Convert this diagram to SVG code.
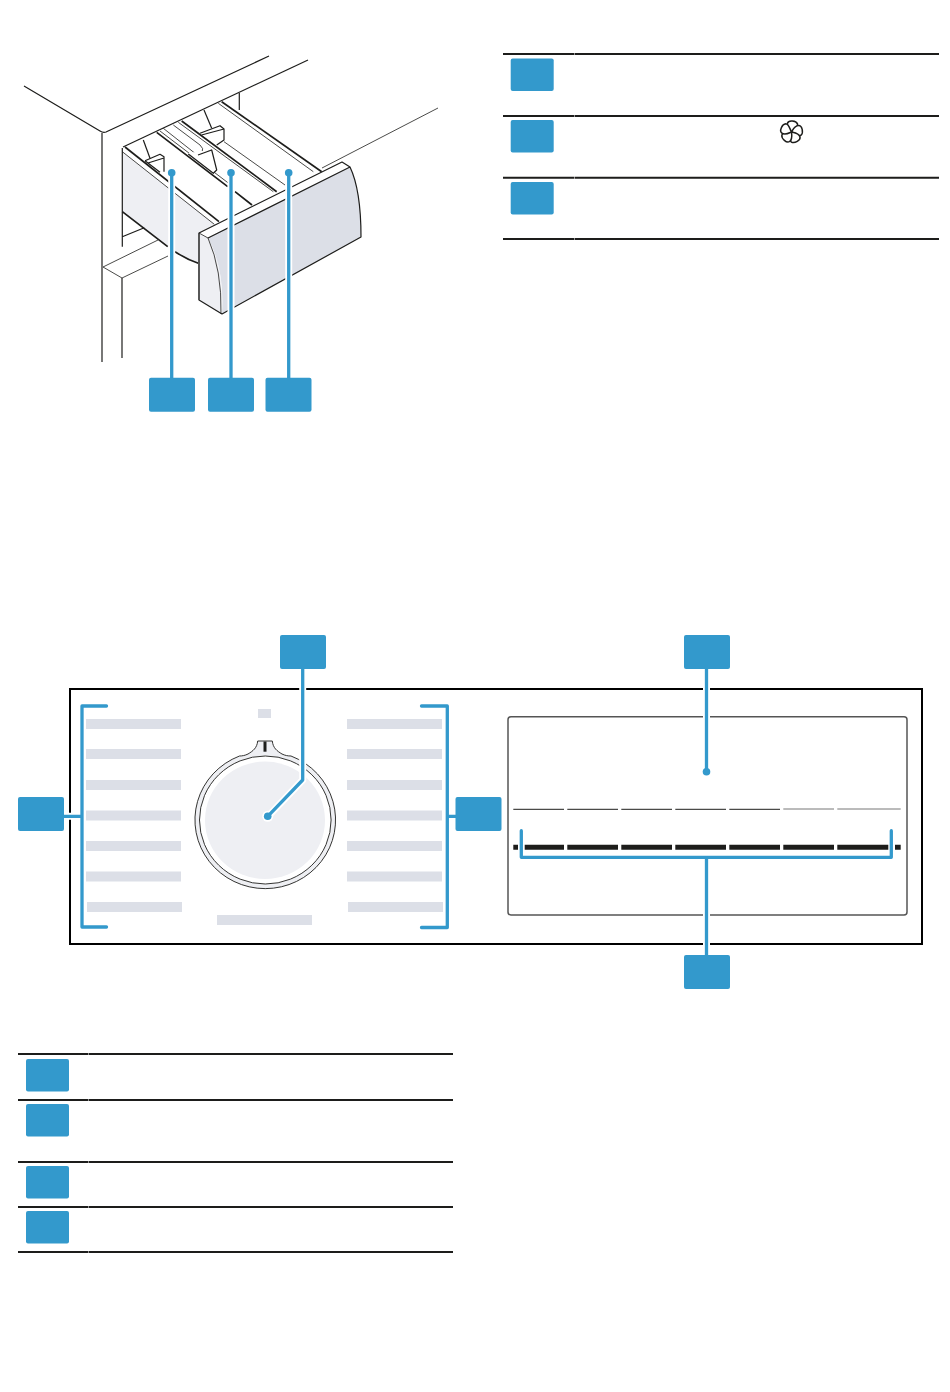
<svg xmlns="http://www.w3.org/2000/svg" width="950" height="1392" viewBox="0 0 950 1392">
<style>
.tag{fill:#3399cc}
.ln{fill:none;stroke:#1d1d1b;stroke-width:1.2;stroke-linejoin:round;stroke-linecap:butt}
.th{stroke-width:1.700}
.tn{stroke-width:.8}
.rule{fill:none;stroke:#1d1d1b;stroke-width:2}
.bar{fill:#dcdfe7}
.halo{fill:none;stroke:#fff;stroke-width:7}
.lead{fill:none;stroke:#3399cc;stroke-width:3.300;stroke-linejoin:round;stroke-linecap:round}
</style>
<defs>
<rect id="tagW" class="tag" width="46" height="34" rx="2"/>
<rect id="tagS" class="tag" width="43" height="32.500" rx="2"/>
<path id="petal" d="M0 0C-2.500-2-6-4-5.500-8C-5-11.500 2.500-12 4.500-9C6-6 1.500-2.500 0 0Z" fill="#fff" stroke="#1d1d1b" stroke-width="1.500"/>
</defs>
<g id="drawer-illustration">
<path class="ln" d="M24 86L100 131Q103 133 106 132L269 56"/>
<path class="ln" d="M123 147L308 60"/>
<path class="ln tn" d="M322 168L438 108"/>
<path class="ln" d="M102 133V362"/>
<path class="ln" d="M239.300 93V110"/>
<path class="ln tn" d="M103 267L122 278L168 256M103 267L158 240"/>
<path class="ln" d="M122 278V358"/>
<path d="M122.300 151.700L214.300 224.300L199 233V263Q186 259 175 252L167.700 246.700L122.300 211.700Z" fill="#eeeff3"/>
<path class="ln" d="M122.300 148V211.700M122.300 211.700V246.700M122.300 236.700L144.300 227.700"/>
<path class="ln th" d="M122.300 211.700L167.700 246.700M175 251.700Q186 259 198.300 263.300"/>
<path class="ln tn" d="M122.300 151.700L214.300 224.300"/>
<path class="ln th" d="M125 147L219 221.700"/>
<path class="ln" d="M143.300 140L150 158.300"/>
<path d="M145 160.700L160 154.300L164 156.700V171.700L160 172.300Z" fill="#fff"/>
<path class="ln" d="M145 160.700L160 154.300L164 156.700V171.700M148 163L164 158M145 160.700L160 172.300"/>
<path class="ln th" d="M156.700 132.300L227.700 186.700M235 191.700L252 205"/>
<path class="ln tn" d="M160 131L230 184.300"/>
<path class="ln tn" d="M163.300 128.300L195 153.300Q198 155 203 153L211.700 150M173.300 125L200 145Q204 149 202.300 151"/>
<path d="M188 153L211.700 150L216.700 170L213.300 173.300Z" fill="#fff"/>
<path class="ln" d="M188.300 154L213.300 173.300L216.700 170L211.700 150L198 155"/>
<path class="ln tn" d="M178.300 122.300L273.300 191.700"/>
<path class="ln th" d="M181.700 121L276.700 191.700"/>
<path class="ln" d="M204 110L211.700 128.300"/>
<path d="M200 133.300L220 125.700L224 129V140L216.700 145Z" fill="#fff"/>
<path class="ln" d="M200 133.300L220 125.700L224 129V140L216.700 145M201.500 135L224 129"/>
<path class="ln tn" d="M224 141.700L285 185"/>
<path class="ln th" d="M221.700 101.700L321.700 171.700"/>
<path class="ln tn" d="M218.300 103.300L313.300 171.700"/>
<path d="M199 233L342 162L350 167L208 238Z" fill="#fff"/>
<path d="M208 238L350 167Q361 190 361 237L222 314Q225 270 208 238Z" fill="#dcdfe7"/>
<path d="M199 233L208 238Q225 270 221 314L199 300Z" fill="#eeeff3"/>
<path class="ln" d="M199 233L342 162L350 167Q361 190 361 237L222 314L199 300ZM208 238L350 167"/>
<path d="M199 233V300" fill="none" stroke="#555" stroke-width="1.800"/>
<path class="ln tn" d="M199 233L208 238Q222 270 221 314"/>
</g>
<g id="connectors">
<path class="halo" d="M171.700 178V377M231 178V377M288.700 178V377"/>
<path class="lead" d="M171.700 173V378M231 173V378M288.700 173V378"/>
<circle class="tag" cx="171.700" cy="172.700" r="3.800"/>
<circle class="tag" cx="231" cy="172.700" r="3.800"/>
<circle class="tag" cx="288.700" cy="172.700" r="3.800"/>
</g>
<g id="table-top">
<path class="rule" d="M503 54H574M574.500 54H939M503 116H574M574.500 116H939M503 177.700H574M574.500 177.700H939M503 239H574M574.500 239H939"/>
<use href="#tagS" x="510.700" y="58.500"/>
<use href="#tagS" x="510.700" y="120"/>
<use href="#tagS" x="510.700" y="182"/>
<g id="flower-icon" transform="translate(791.500 132)">
<use href="#petal" transform="rotate(10)"/>
<use href="#petal" transform="rotate(82)"/>
<use href="#petal" transform="rotate(154)"/>
<use href="#petal" transform="rotate(226)"/>
<use href="#petal" transform="rotate(298)"/>
</g>
</g>
<g id="panel">
<rect x="70" y="689" width="852" height="255" fill="#fff" stroke="#000" stroke-width="2"/>
<g id="programme-labels-left">
<rect class="bar" x="86" y="719" width="95" height="10"/>
<rect class="bar" x="86" y="749" width="95" height="10"/>
<rect class="bar" x="86" y="780" width="95" height="10"/>
<rect class="bar" x="86" y="810.500" width="95" height="10"/>
<rect class="bar" x="86" y="841" width="95" height="10"/>
<rect class="bar" x="86" y="871.500" width="95" height="10"/>
<rect class="bar" x="87" y="902" width="95" height="10"/>
</g>
<g id="programme-labels-right">
<rect class="bar" x="347" y="719" width="95" height="10"/>
<rect class="bar" x="347" y="749" width="95" height="10"/>
<rect class="bar" x="347" y="780" width="95" height="10"/>
<rect class="bar" x="347" y="810.500" width="95" height="10"/>
<rect class="bar" x="347" y="841" width="95" height="10"/>
<rect class="bar" x="347" y="871.500" width="95" height="10"/>
<rect class="bar" x="348" y="902" width="95" height="10"/>
</g>
<rect class="bar" x="258" y="709" width="13" height="9"/>
<rect class="bar" x="217" y="915" width="95" height="10"/>
<g id="knob">
<path d="M257.700 741H272.300C273 748 277 751 282 754C285 755.500 288 756 291 756A70.300 68.700 0 1 1 239.500 756C242 756 245 755.500 248 754C253 751 257 748 257.700 741Z" fill="#eeeff3" stroke="#1d1d1b" stroke-width=".9"/>
<ellipse cx="265.300" cy="820" rx="65.800" ry="64" fill="#fff" stroke="#1d1d1b" stroke-width=".9"/>
<ellipse cx="265" cy="820.300" rx="60" ry="58.700" fill="#eeeff3"/>
<path d="M265 741.500V751.700" stroke="#1d1d1b" stroke-width="3" fill="none"/>
</g>
<g id="display">
<rect x="508" y="716.700" width="399" height="198.300" rx="3" fill="#fff" stroke="#555" stroke-width="1.500"/>
<path fill="none" stroke="#1d1d1b" stroke-width="1" d="M513.300 809.300H564M567.300 809.300H618M621.300 809.300H672M675.300 809.300H726M729.300 809.300H780"/>
<path fill="none" stroke="#777" stroke-width="1" d="M783.300 809H834M837.300 809H900.700"/>
<path fill="none" stroke="#1d1d1b" stroke-width="5" d="M513.300 847.300H518M524.700 847.300H564M567.300 847.300H618M621.300 847.300H672M675.300 847.300H726M729.300 847.300H780M783.300 847.300H834M837.300 847.300H888.300M895 847.300H900.700"/>
</g>
</g>
<g id="panel-connectors">
<path class="halo" stroke-linecap="butt" d="M64 816.300H82M448 816.300H456M302.700 669V780L268 816.300M706.500 669V771M706.500 858V955"/>
<circle cx="267.700" cy="816.300" r="5.500" fill="#fff"/>
<path class="lead" d="M106.500 706H82V927H106.500M64 816.300H82"/>
<path class="lead" d="M421.500 706H447.300V927.500H421.500M447.300 816.300H456"/>
<path class="lead" d="M302.700 669V780L267.700 816.300"/>
<path class="lead" d="M706.500 669V771.700"/>
<path class="lead" d="M521.300 830.700V857.300H891.300V830.700M706.500 857.300V955"/>
<circle class="tag" cx="267.700" cy="816.300" r="3.800"/>
<circle class="tag" cx="706.500" cy="771.700" r="3.800"/>
</g>
<g id="callouts">
<use href="#tagW" x="149" y="377.700"/>
<use href="#tagW" x="208" y="377.700"/>
<use href="#tagW" x="265.500" y="377.700"/>
<use href="#tagW" x="280" y="635"/>
<use href="#tagW" x="684" y="635"/>
<use href="#tagW" x="18" y="797"/>
<use href="#tagW" x="455.500" y="797"/>
<use href="#tagW" x="684" y="955"/>
</g>
<g id="table-bottom">
<path class="rule" d="M18 1054H88.500M89 1054H453M18 1100H88.500M89 1100H453M18 1162H88.500M89 1162H453M18 1207H88.500M89 1207H453M18 1252H88.500M89 1252H453"/>
<use href="#tagS" x="26" y="1059"/>
<use href="#tagS" x="26" y="1104"/>
<use href="#tagS" x="26" y="1166"/>
<use href="#tagS" x="26" y="1211"/>
</g>
</svg>
